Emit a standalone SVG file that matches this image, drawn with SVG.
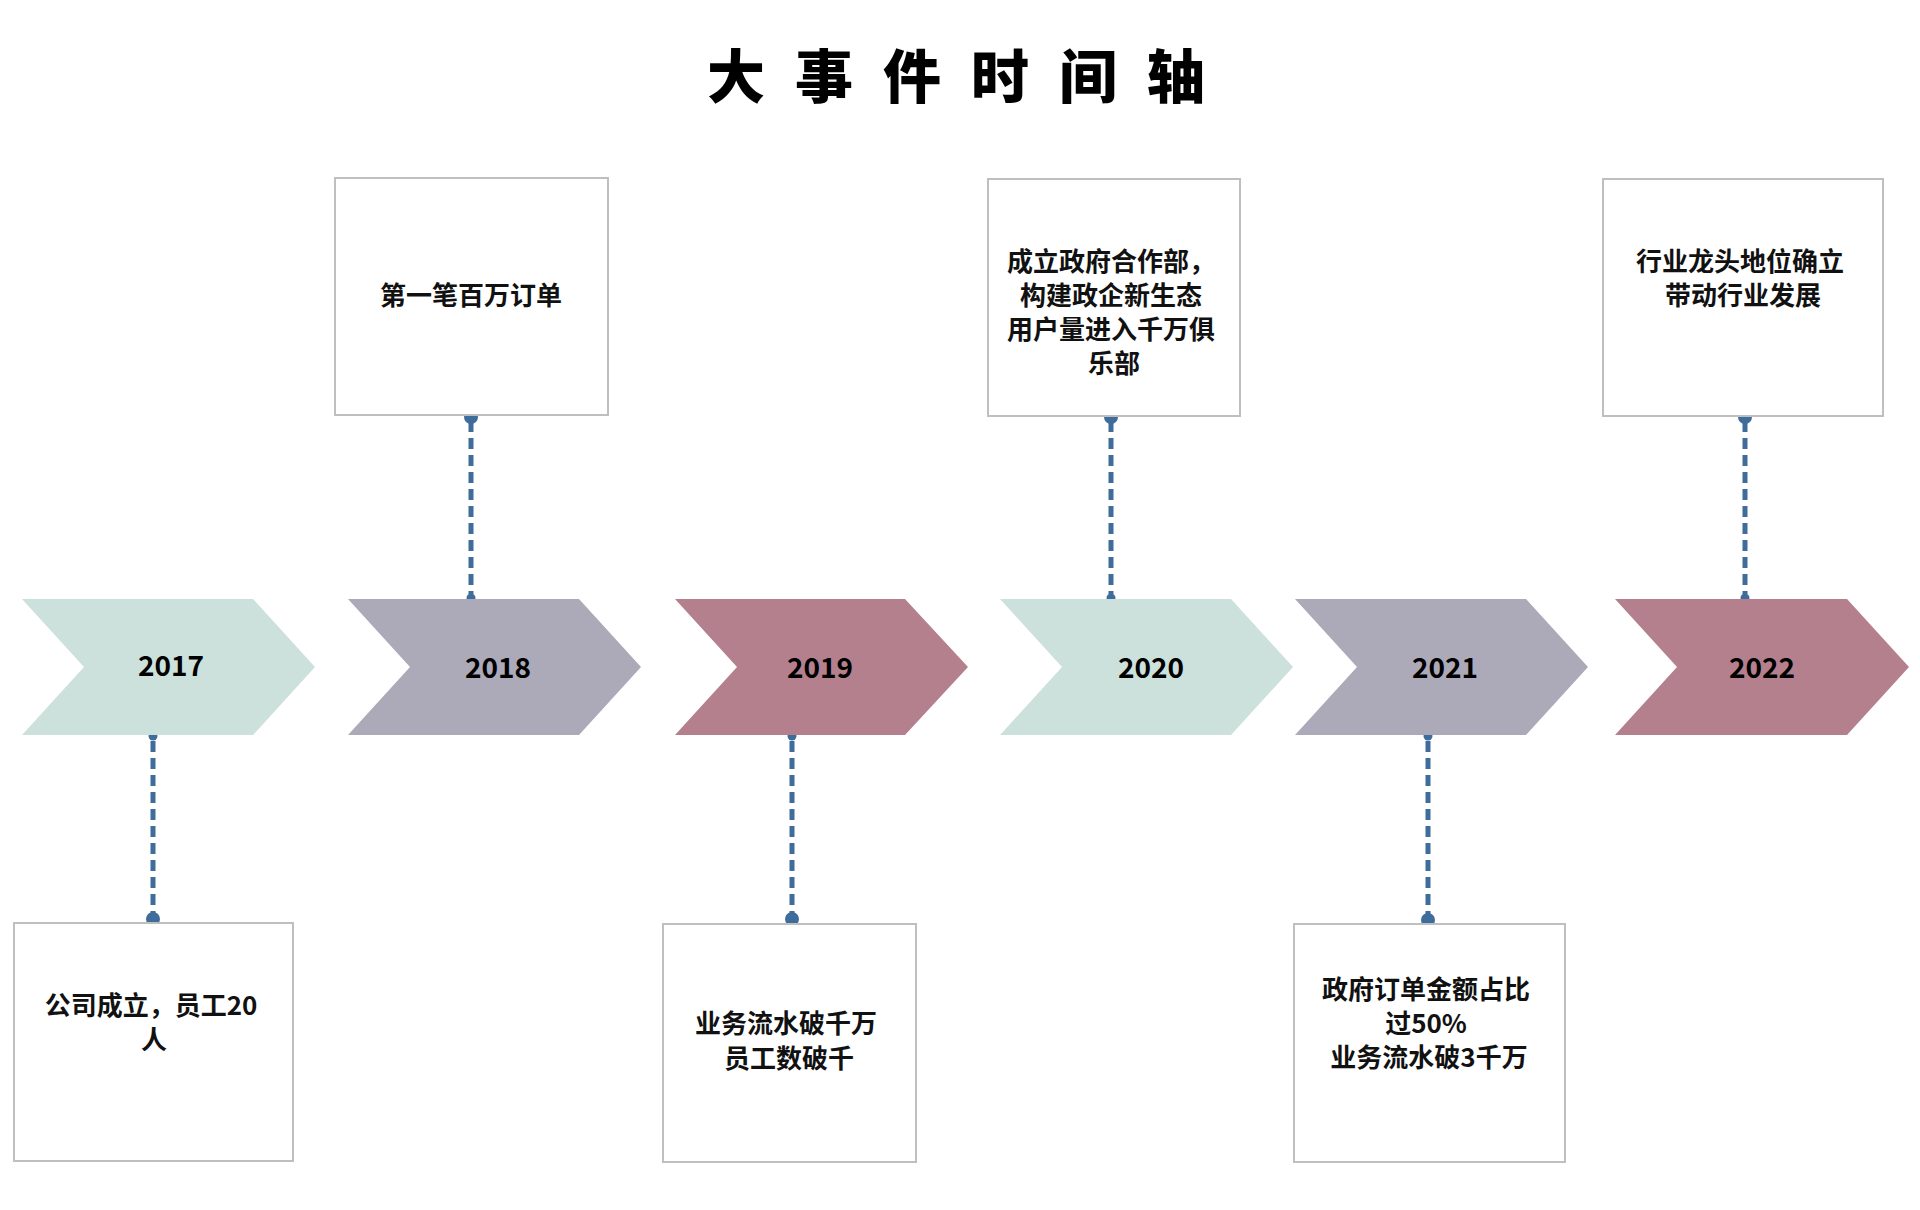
<svg xmlns="http://www.w3.org/2000/svg" width="1920" height="1210" viewBox="0 0 1920 1210">
  <style>
    .title { font-family: "Noto Sans CJK SC", "Noto Sans", sans-serif; font-weight: 900; font-size: 58px; fill: #000; }
    .year { font-family: "Noto Sans CJK SC", "Noto Sans", sans-serif; font-weight: 700; font-size: 28px; fill: #000; }
    .lbl { font-family: "Noto Sans CJK SC", "Noto Sans", sans-serif; font-weight: 700; font-size: 26px; fill: #111; }
    .box { fill: #ffffff; stroke: #bfbfbf; stroke-width: 2; }
    .teal { fill: #cce0dc; }
    .purple { fill: #aca9b9; }
    .mauve { fill: #b4808e; }
    .conn { stroke: #3e6d9c; stroke-width: 5; stroke-dasharray: 11 6; fill: none; }
    .dot { fill: #3e6d9c; }
  </style>
  <rect x="0" y="0" width="1920" height="1210" fill="#ffffff"/>

  <g id="title">
    <text class="title" x="736 824 912 1000 1088 1176" y="73" text-anchor="middle" dominant-baseline="central">大事件时间轴</text>
  </g>

  <g id="connectors">
    <line class="conn" x1="153" y1="741" x2="153" y2="914"/>
    <circle class="dot" cx="153" cy="736" r="4.5"/>
    <circle class="dot" cx="153" cy="919" r="7"/>

    <line class="conn" x1="471" y1="421" x2="471" y2="594"/>
    <circle class="dot" cx="471" cy="598" r="4.5"/>
    <circle class="dot" cx="471" cy="417" r="7"/>

    <line class="conn" x1="792" y1="741" x2="792" y2="914"/>
    <circle class="dot" cx="792" cy="736" r="4.5"/>
    <circle class="dot" cx="792" cy="919" r="7"/>

    <line class="conn" x1="1111" y1="421" x2="1111" y2="594"/>
    <circle class="dot" cx="1111" cy="598" r="4.5"/>
    <circle class="dot" cx="1111" cy="417" r="7"/>

    <line class="conn" x1="1428" y1="741" x2="1428" y2="915"/>
    <circle class="dot" cx="1428" cy="736" r="4.5"/>
    <circle class="dot" cx="1428" cy="920" r="7"/>

    <line class="conn" x1="1745" y1="421" x2="1745" y2="594"/>
    <circle class="dot" cx="1745" cy="598" r="4.5"/>
    <circle class="dot" cx="1745" cy="417" r="7"/>
  </g>

  <g id="y2017">
    <polygon class="teal" points="22,599 253,599 315,667 253,735 22,735 84,667"/>
    <text class="year" x="171" y="664" text-anchor="middle" dominant-baseline="central">2017</text>
  </g>
  <g id="y2018">
    <polygon class="purple" points="348,599 579,599 641,667 579,735 348,735 410,667"/>
    <text class="year" x="498" y="666" text-anchor="middle" dominant-baseline="central">2018</text>
  </g>
  <g id="y2019">
    <polygon class="mauve" points="675,599 905,599 968,667 905,735 675,735 737,667"/>
    <text class="year" x="820" y="666" text-anchor="middle" dominant-baseline="central">2019</text>
  </g>
  <g id="y2020">
    <polygon class="teal" points="1000,599 1231,599 1293,667 1231,735 1000,735 1062,667"/>
    <text class="year" x="1151" y="666" text-anchor="middle" dominant-baseline="central">2020</text>
  </g>
  <g id="y2021">
    <polygon class="purple" points="1295,599 1526,599 1588,667 1526,735 1295,735 1357,667"/>
    <text class="year" x="1445" y="666" text-anchor="middle" dominant-baseline="central">2021</text>
  </g>
  <g id="y2022">
    <polygon class="mauve" points="1615,599 1847,599 1909,667 1847,735 1615,735 1677,667"/>
    <text class="year" x="1762" y="666" text-anchor="middle" dominant-baseline="central">2022</text>
  </g>

  <g id="box2017">
    <rect class="box" x="14" y="923" width="279" height="238"/>
    <text class="lbl" text-anchor="middle" dominant-baseline="central">
      <tspan x="154" y="1003">公司成立，员工20</tspan>
      <tspan x="154" y="1037">人</tspan>
    </text>
  </g>
  <g id="box2018">
    <rect class="box" x="335" y="178" width="273" height="237"/>
    <text class="lbl" x="471" y="293" text-anchor="middle" dominant-baseline="central">第一笔百万订单</text>
  </g>
  <g id="box2019">
    <rect class="box" x="663" y="924" width="253" height="238"/>
    <text class="lbl" text-anchor="middle" dominant-baseline="central">
      <tspan x="789" y="1021">业务流水破千万</tspan>
      <tspan x="789" y="1056">员工数破千</tspan>
    </text>
  </g>
  <g id="box2020">
    <rect class="box" x="988" y="179" width="252" height="237"/>
    <text class="lbl" text-anchor="middle" dominant-baseline="central">
      <tspan x="1114" y="259">成立政府合作部，</tspan>
      <tspan x="1114" y="293">构建政企新生态</tspan>
      <tspan x="1114" y="327">用户量进入千万俱</tspan>
      <tspan x="1114" y="361">乐部</tspan>
    </text>
  </g>
  <g id="box2021">
    <rect class="box" x="1294" y="924" width="271" height="238"/>
    <text class="lbl" text-anchor="middle" dominant-baseline="central">
      <tspan x="1429" y="987">政府订单金额占比</tspan>
      <tspan x="1429" y="1021">过50%</tspan>
      <tspan x="1429" y="1055">业务流水破3千万</tspan>
    </text>
  </g>
  <g id="box2022">
    <rect class="box" x="1603" y="179" width="280" height="237"/>
    <text class="lbl" text-anchor="middle" dominant-baseline="central">
      <tspan x="1743" y="259">行业龙头地位确立</tspan>
      <tspan x="1743" y="293">带动行业发展</tspan>
    </text>
  </g>
</svg>
